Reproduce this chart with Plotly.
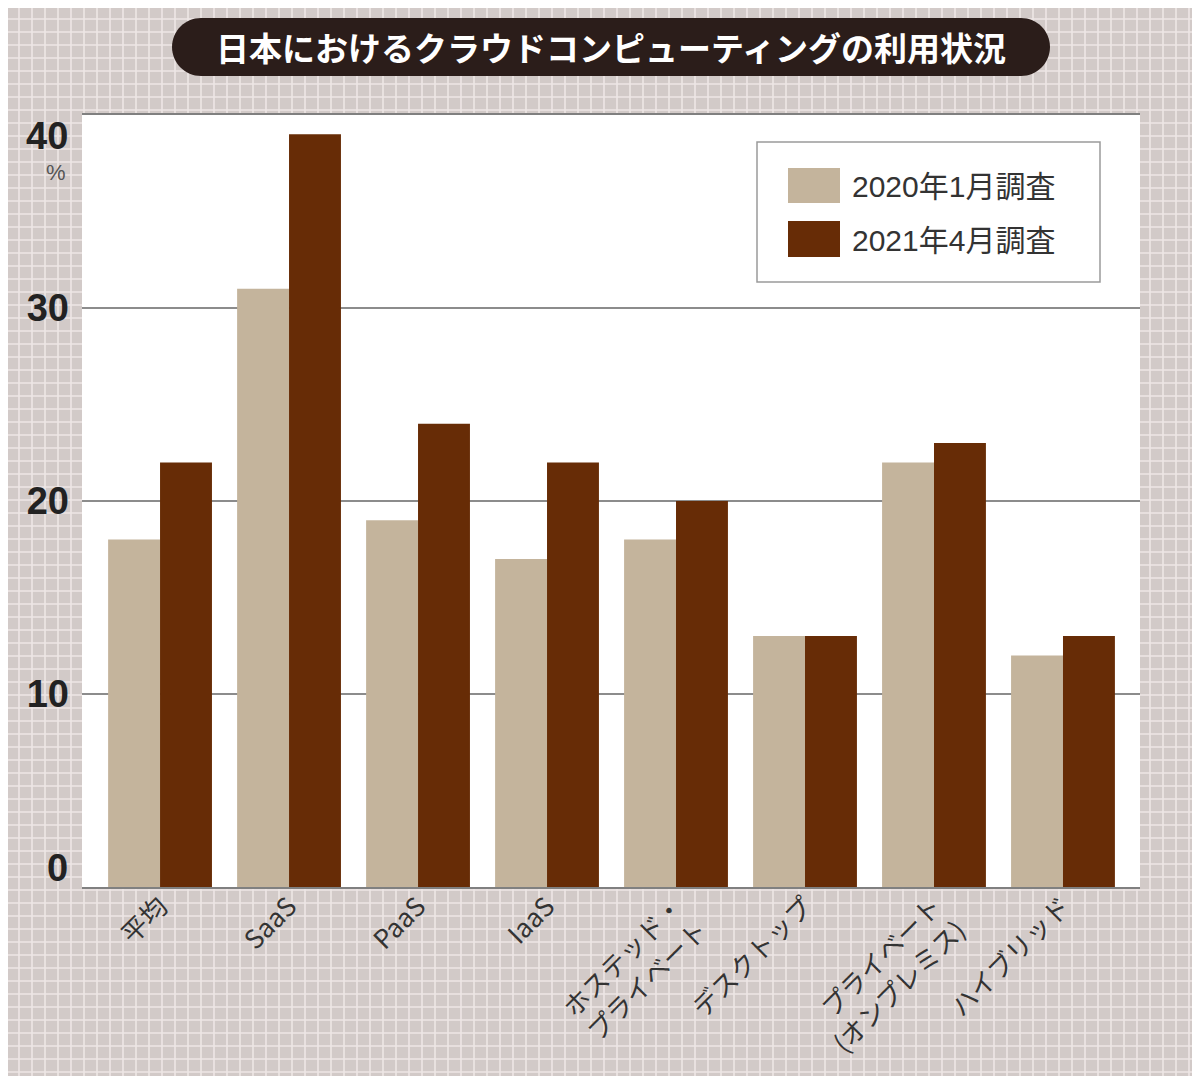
import plotly.graph_objects as go

categories = ["平均", "SaaS", "PaaS", "IaaS", "ホステッド・<br>プライベート", "デスクトップ",
              "プライベート<br>(オンプレミス)", "ハイブリッド"]
series_2020 = [18, 31, 19, 17, 18, 13, 22, 12]
series_2021 = [22, 39, 24, 22, 20, 13, 23, 13]
series_names = ["2020年1月調査", "2021年4月調査"]
series_colors = ["#c4b49c", "#672c06"]
y_ticks = [0, 10, 20, 30, 40]
title_text = "日本におけるクラウドコンピューティングの利用状況"

FW, FH = 1200, 1076
OFF = 8  # page body margin
# plot area in reference pixel coordinates
RL, RT, RR, RB = 82, 115, 1140, 887
W, H = RR - RL, RB - RT
L, T = RL - OFF, RT - OFF


def px(x):
    return (x - RL) / W


def py(y):
    return (RB - y) / H


fig = go.Figure()
fig.add_trace(go.Bar(x=categories, y=series_2020, name=series_names[0],
                     marker=dict(color=series_colors[0], line=dict(width=0))))
fig.add_trace(go.Bar(x=categories, y=series_2021, name=series_names[1],
                     marker=dict(color=series_colors[1], line=dict(width=0))))

# background grid pattern
parts = []
v = 6
while v < FW + 20:
    parts.append(f"M{px(v):.5f},{py(-10):.5f}L{px(v):.5f},{py(FH + 20):.5f}")
    v += 13
h = 6
while h < FH + 20:
    parts.append(f"M{px(-10):.5f},{py(h):.5f}L{px(FW + 20):.5f},{py(h):.5f}")
    h += 13
shapes = [
    dict(type="path", xref="paper", yref="paper", path="".join(parts),
         line=dict(color="#eee6e5", width=1.6), layer="below"),
    dict(type="rect", xref="paper", yref="paper", x0=0, x1=1, y0=0, y1=1,
         fillcolor="white", line=dict(width=0), layer="below"),
]

# title pill
x0, x1, y0, y1 = 172, 1050, 18, 76
r = (y1 - y0) / 2
k = 0.5523 * r
ym = (y0 + y1) / 2
pts = [
    ("M", [(x0 + r, y0)]),
    ("L", [(x1 - r, y0)]),
    ("C", [(x1 - r + k, y0), (x1, ym - k), (x1, ym)]),
    ("C", [(x1, ym + k), (x1 - r + k, y1), (x1 - r, y1)]),
    ("L", [(x0 + r, y1)]),
    ("C", [(x0 + r - k, y1), (x0, ym + k), (x0, ym)]),
    ("C", [(x0, ym - k), (x0 + r - k, y0), (x0 + r, y0)]),
]
path = ""
for cmd, ps in pts:
    path += cmd + " ".join(f"{px(a):.5f},{py(b):.5f}" for a, b in ps)
path += "Z"
shapes.append(dict(type="path", xref="paper", yref="paper", path=path,
                   fillcolor="#2b1d1a", line=dict(width=0), layer="below"))

# legend box (drawn manually for large swatches)
shapes.append(dict(type="rect", xref="paper", yref="paper",
                   x0=px(757), x1=px(1100), y0=py(282), y1=py(142),
                   fillcolor="white", line=dict(color="#9a9a9a", width=1.5), layer="above"))
legend_rows = [(168, 203), (221, 257)]
annotations = []
for (ya, yb), name, col in zip(legend_rows, series_names, series_colors):
    shapes.append(dict(type="rect", xref="paper", yref="paper",
                       x0=px(788), x1=px(840), y0=py(yb), y1=py(ya),
                       fillcolor=col, line=dict(width=0), layer="above"))
    annotations.append(dict(text=name, xref="paper", yref="paper",
                            x=px(850), y=py((ya + yb) / 2 + 1),
                            showarrow=False, xanchor="left", yanchor="middle",
                            font=dict(family="Liberation Sans, Noto Sans CJK JP",
                                      size=30, color="#333")))

tick_font = dict(family="Liberation Sans Narrow, Liberation Sans", size=38,
                 color="#222", weight="bold")
# end tick labels sit inside the plot's vertical span, as in the original
annotations.append(dict(text=str(y_ticks[0]), xref="paper", yref="y", x=0, y=y_ticks[0],
                        xanchor="right", yanchor="bottom", xshift=-12, yshift=-4,
                        showarrow=False, font=tick_font))
annotations.append(dict(text=str(y_ticks[-1]), xref="paper", yref="y", x=0, y=y_ticks[-1],
                        xanchor="right", yanchor="top", xshift=-12, yshift=2,
                        showarrow=False, font=tick_font))

annotations += [
    dict(text=title_text, xref="paper", yref="paper", x=px(611), y=py(47),
         showarrow=False, xanchor="center", yanchor="middle",
         font=dict(family="Noto Sans CJK JP", size=33, color="white", weight="bold")),
    dict(text="%", xref="paper", yref="paper", x=px(68), y=py(172),
         showarrow=False, xanchor="right", yanchor="middle",
         font=dict(family="Liberation Sans", size=22, color="#555")),
]

fig.update_layout(
    width=FW, height=FH,
    margin=dict(l=L, r=FW - (RR - OFF), t=T, b=FH - (RB - OFF), autoexpand=False),
    paper_bgcolor="#d2cac8",
    plot_bgcolor="white",
    barmode="group", bargap=0.195, bargroupgap=0,
    shapes=shapes, annotations=annotations,
    showlegend=False,
    xaxis=dict(showline=True, mirror=True, linecolor="#808080", linewidth=2,
               range=[-0.605, 7.597],
               tickangle=-45, ticks="", showgrid=False, automargin=False,
               ticklabelstandoff=-8,
               tickfont=dict(family="Noto Sans CJK JP", size=26, color="#333")),
    yaxis=dict(range=[0, 40], tickvals=y_ticks[1:-1], showgrid=True, gridcolor="#8c8c8c",
               gridwidth=1.5, zeroline=False, showline=False, ticks="",
               ticklabelstandoff=12, automargin=False,
               tickfont=tick_font),
    font=dict(family="Noto Sans CJK JP"),
)

fig.write_html("out.html")
